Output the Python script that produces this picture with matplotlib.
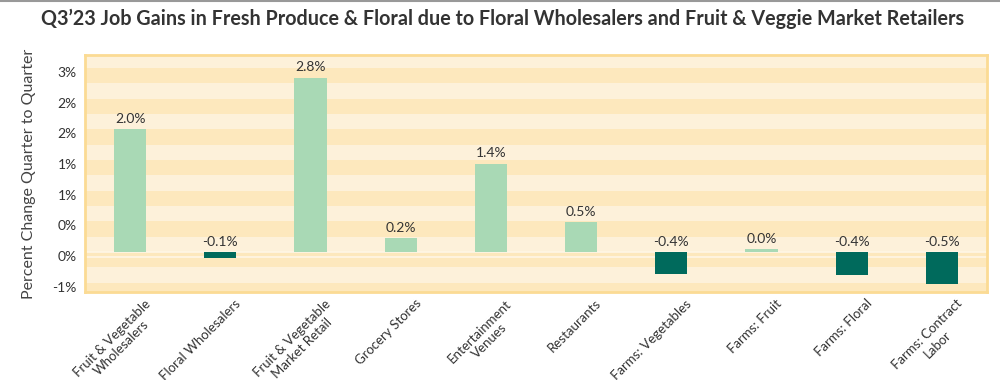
import matplotlib
matplotlib.use("Agg")
import matplotlib.pyplot as plt
from matplotlib.transforms import ScaledTranslation

categories = ["Fruit & Vegetable\nWholesalers", "Floral Wholesalers", "Fruit & Vegetable\nMarket Retail",
              "Grocery Stores", "Entertainment\nVenues", "Restaurants", "Farms: Vegetables",
              "Farms: Fruit", "Farms: Floral", "Farms: Contract\nLabor"]
changes = [2.0, -0.1, 2.84, 0.22, 1.44, 0.49, -0.36, 0.045, -0.38, -0.52]
tick_values = [3.0, 2.5, 2.0, 1.5, 1.0, 0.5, 0.0, -0.5]
tick_labels = ["3%", "2%", "2%", "1%", "1%", "0%", "0%", "-1%"]

plt.rcParams['font.family'] = ['Lato', 'DejaVu Sans']

fig = plt.figure(figsize=(10, 3.8), dpi=100)
ax = fig.add_axes([0.085, 0.232, 0.902, 0.623])

# striped background
y = -0.75
k = 0
while y < 3.3:
    ax.axhspan(y, y + 0.25, color="#fde8bd" if k % 2 == 0 else "#fdf1da", lw=0, zorder=0)
    y += 0.25
    k += 1

ax.axhline(0, color="#fff6e6", lw=1.2, zorder=1)
ax.axhline(-0.08, color="#fff6e6", lw=1.2, zorder=1)

colors = ["#a9d9b5" if v >= 0 else "#006a5c" for v in changes]
x = range(len(categories))
ax.bar(x, changes, width=0.355, color=colors, zorder=2)

for i, v in enumerate(changes):
    ypos = v if v > 0 else 0
    ax.text(i, ypos + 0.07, "%.1f%%" % v, ha="center", va="bottom", fontsize=10, color="#333333")

ax.set_xlim(-0.5, 9.5)
ax.set_ylim(-0.65, 3.21)
ax.set_yticks(tick_values)
ax.set_yticklabels(tick_labels)
ax.set_xticks(list(x))
ax.set_xticklabels(categories, rotation=45, ha="right", rotation_mode="anchor",
                   multialignment="center", fontsize=9.5, color="#333333")
ax.tick_params(axis="y", length=0, labelsize=10, labelcolor="#333333", pad=6)
ax.tick_params(axis="x", length=0, pad=4)
shift_x = ScaledTranslation(14 / 100, 0, fig.dpi_scale_trans)
for lab in ax.get_xticklabels():
    lab.set_transform(lab.get_transform() + shift_x)
shift_y = ScaledTranslation(0, -4 / 100, fig.dpi_scale_trans)
for lab in ax.get_yticklabels():
    lab.set_transform(lab.get_transform() + shift_y)
for s in ax.spines.values():
    s.set_color("#fbdb94")
    s.set_linewidth(2)

ax.set_ylabel("Percent Change Quarter to Quarter", fontsize=11.5, color="#444444", labelpad=12)
fig.text(0.503, 1 - 19 / 380,
         "Q3’23 Job Gains in Fresh Produce & Floral due to Floral Wholesalers and Fruit & Veggie Market Retailers",
         ha="center", va="center", fontsize=14.2, fontweight="bold", color="#333333")
fig.add_artist(plt.Line2D([0, 1], [0.998, 0.998], color="#999999", lw=1.5))

fig.savefig("out.png", dpi=100)
